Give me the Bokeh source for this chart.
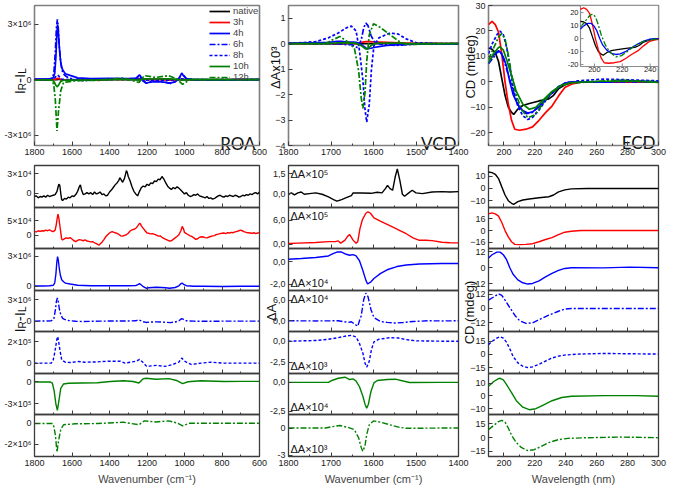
import math
from bokeh.plotting import figure
from bokeh.models import Range1d, FixedTicker, Label
from bokeh.layouts import row, column
from bokeh.embed import file_html
from bokeh.resources import INLINE
from bokeh.core.properties import value

# ---------------- data ----------------
SERIES = ["native", "3h", "4h", "6h", "8h", "10h", "12h"]
COLORS = ["#000000", "#ff0000", "#0000ff", "#0000ff", "#0000ff", "#008000", "#008000"]
DASHES = ["solid", "solid", "solid", "6 2 2 2", "3 2", "solid", "6 2 2 2"]

# ROA  (I_R - I_L), values in units of 10^ROA_EXP[k]
ROA_EXP = [4, 4, 6, 6, 5, 5, 6]
roa_native = [(1800,-0.5),(1790,-0.4),(1780,-0.7),(1770,-0.5),(1760,-0.6),(1750,-0.4),(1740,-0.6),(1730,-0.3),(1720,-0.5),(1710,-0.4),(1700,-0.3),(1690,-0.2),(1680,0.3),(1675,0.9),(1670,1.4),(1665,1.2),(1660,0.0),(1655,-1.0),(1650,-1.1),(1640,-0.8),(1630,-0.9),(1620,-0.6),(1610,-0.7),(1600,-0.4),(1590,-0.5),(1580,-0.2),(1570,0.3),(1560,1.1),(1555,1.3),(1550,0.6),(1540,-0.2),(1530,-0.1),(1520,0.1),(1510,-0.1),(1500,0.1),(1490,-0.2),(1480,0.2),(1470,-0.1),(1460,0.0),(1450,0.2),(1440,-0.2),(1430,-0.1),(1420,-0.4),(1410,-0.3),(1400,0.2),(1390,0.5),(1380,0.9),(1370,1.3),(1360,1.6),(1350,2.0),(1345,2.4),(1340,2.2),(1330,1.7),(1320,2.3),(1310,3.5),(1305,3.2),(1300,2.6),(1290,1.9),(1280,1.0),(1270,0.3),(1260,-0.1),(1250,-0.4),(1240,0.3),(1230,0.9),(1220,1.1),(1210,1.0),(1200,1.4),(1190,1.2),(1180,1.6),(1170,1.5),(1160,1.9),(1150,1.8),(1140,2.2),(1130,2.1),(1120,2.6),(1110,2.2),(1100,1.6),(1090,1.1),(1080,0.8),(1070,0.6),(1060,0.9),(1050,0.7),(1040,1.0),(1030,0.8),(1020,0.5),(1010,0.2),(1000,-0.1),(990,0.1),(980,-0.3),(970,-0.5),(960,-0.4),(950,-0.2),(940,-0.3),(930,-0.1),(920,-0.4),(910,-0.5),(900,-0.6),(890,-0.7),(880,-0.5),(870,-0.8),(860,-0.7),(850,-0.9),(840,-0.8),(830,-0.6),(820,-0.4),(810,-0.3),(800,-0.5),(790,-0.6),(780,-0.4),(770,-0.5),(760,-0.3),(750,-0.4),(740,-0.5),(730,-0.3),(720,-0.4),(710,-0.6),(700,-0.5),(690,-0.3),(680,-0.4),(670,-0.2),(660,-0.3),(650,-0.1),(640,-0.2),(630,0.0),(620,0.1),(610,-0.1),(600,0.2)]
roa_3h = [(1800,1.3),(1790,1.2),(1780,1.6),(1770,1.4),(1760,1.6),(1750,1.5),(1740,1.8),(1730,1.6),(1720,1.9),(1710,1.5),(1700,1.3),(1690,1.8),(1685,3.3),(1680,5.5),(1675,7.4),(1670,6.0),(1665,3.5),(1660,1.0),(1655,-1.3),(1650,-1.6),(1640,-1.2),(1630,-0.9),(1620,-1.1),(1610,-0.8),(1600,-1.3),(1590,-1.9),(1580,-2.2),(1570,-1.8),(1560,-1.5),(1550,-1.7),(1540,-1.9),(1530,-1.6),(1520,-2.0),(1510,-2.1),(1500,-2.3),(1490,-2.2),(1480,-2.6),(1470,-2.9),(1460,-3.3),(1455,-3.4),(1450,-3.0),(1440,-2.4),(1430,-1.5),(1420,-0.5),(1410,0.2),(1400,0.8),(1390,1.2),(1385,1.3),(1380,1.1),(1370,0.9),(1360,0.7),(1350,0.3),(1340,-0.2),(1330,-0.3),(1320,0.0),(1310,0.2),(1300,0.7),(1290,1.5),(1280,1.9),(1270,2.1),(1260,2.4),(1250,3.2),(1240,4.2),(1235,4.0),(1230,3.3),(1220,2.4),(1210,1.6),(1200,0.8),(1190,0.7),(1180,0.5),(1170,0.6),(1160,0.3),(1150,0.1),(1140,-0.3),(1130,-0.2),(1120,-0.7),(1110,-1.1),(1100,-1.4),(1090,-1.7),(1080,-2.0),(1070,-1.9),(1060,-1.4),(1050,-0.9),(1040,-0.4),(1030,0.2),(1020,1.5),(1012,3.1),(1005,2.2),(1000,1.0),(990,0.6),(980,0.2),(970,-0.2),(960,-0.4),(950,-0.9),(940,-1.4),(930,-1.2),(920,-0.7),(910,-0.5),(900,-0.6),(890,-0.8),(880,-0.9),(870,-0.6),(860,-0.4),(850,-0.2),(840,-0.1),(830,0.3),(820,0.4),(810,0.6),(800,0.7),(790,0.8),(780,0.6),(770,0.9),(760,0.8),(750,1.0),(740,0.9),(730,1.2),(720,1.4),(710,1.6),(700,1.8),(690,1.5),(680,1.2),(670,1.0),(660,0.9),(650,0.8),(640,0.7),(630,0.9),(620,0.6),(610,0.8),(600,0.8)]
roa_4h = [(1800,0.03),(1750,0.03),(1720,0.05),(1700,0.1),(1692,0.35),(1686,1.2),(1681,2.4),(1677,2.97),(1673,2.6),(1668,1.8),(1662,1.1),(1655,0.65),(1645,0.45),(1635,0.32),(1610,0.23),(1570,0.1),(1500,0.06),(1400,0.07),(1300,0.06),(1260,0.08),(1248,0.16),(1240,0.26),(1232,0.15),(1222,0.0),(1205,-0.19),(1190,-0.15),(1150,-0.1),(1100,-0.15),(1080,-0.19),(1050,-0.12),(1030,0.05),(1020,0.25),(1013,0.33),(1005,0.2),(990,0.06),(950,0.0),(900,0.01),(800,-0.02),(700,0.0),(600,0.0)]
roa_6h = [(1800,0.0),(1750,0.02),(1710,0.05),(1697,0.3),(1689,1.5),(1683,2.8),(1678,3.25),(1674,2.9),(1668,1.8),(1660,0.9),(1650,0.4),(1640,0.25),(1620,0.1),(1580,-0.02),(1540,-0.05),(1500,-0.02),(1450,0.0),(1400,0.02),(1300,0.03),(1260,0.05),(1245,0.2),(1238,0.12),(1225,-0.05),(1205,-0.18),(1180,-0.12),(1150,-0.1),(1100,-0.15),(1075,-0.2),(1050,-0.12),(1030,0.05),(1015,0.35),(1005,0.25),(990,0.05),(950,0.0),(900,-0.02),(800,0.0),(700,0.0),(600,0.0)]
roa_8h = [(1800,0.0),(1710,0.0),(1700,0.3),(1692,1.0),(1685,1.76),(1680,2.3),(1676,2.5),(1671,2.0),(1665,1.3),(1655,0.3),(1636,0.09),(1610,0.06),(1567,0.15),(1533,0.09),(1464,0.12),(1412,0.18),(1343,0.18),(1317,0.0),(1291,0.09),(1257,0.18),(1240,0.36),(1222,0.09),(1202,-0.3),(1150,-0.21),(1102,-0.3),(1067,-0.15),(1030,0.1),(1015,0.48),(1000,0.2),(990,0.09),(964,-0.12),(912,0.0),(860,0.09),(791,0.0),(600,0.0)]
roa_10h = [(1800,-0.04),(1714,-0.04),(1705,-0.17),(1695,-1.26),(1686,-3.0),(1678,-3.87),(1670,-2.6),(1660,-0.9),(1645,-0.3),(1619,-0.2),(1550,-0.17),(1464,-0.13),(1395,0.04),(1326,0.13),(1274,0.04),(1243,-0.17),(1222,0.39),(1205,0.48),(1153,0.35),(1084,0.43),(1041,0.17),(1010,-0.26),(981,0.0),(912,0.13),(791,0.04),(700,0.05),(600,0.05)]
roa_12h = [(1800,-0.03),(1705,-0.03),(1697,-0.3),(1689,-1.08),(1680,-2.77),(1672,-1.7),(1660,-0.6),(1645,-0.15),(1584,-0.06),(1464,-0.03),(1326,0.09),(1243,-0.15),(1214,0.22),(1153,0.12),(1084,0.22),(1041,0.03),(1010,-0.25),(972,0.0),(791,0.0),(600,0.0)]
ROA = [roa_native, roa_3h, roa_4h, roa_6h, roa_8h, roa_10h, roa_12h]
ROA_YR = [(-2.2, 4.3), (-4.6, 9.7), (-0.42, 3.77), (-1.45, 4.3), (-0.97, 2.97), (-4.43, 1.12), (-3.18, 0.83)]
ROA_YT = [[0, 3], [0, 5], [0, 3], [0, 3], [0, 2], [-3, 0], [-2, 0]]
ROA_YL = [{0: "0", 3: "3×10⁴"}, {0: "0", 5: "5×10⁴"}, {0: "0", 3: "3×10⁶"}, {0: "0", 3: "3×10⁶"},
          {0: "0", 2: "2×10⁵"}, {-3: "-3×10⁵", 0: "0"}, {-2: "-2×10⁶", 0: "0"}]

# VCD, values in units of dA x 10^VCD_EXP[k]
VCD_EXP = [5, 5, 4, 4, 3, 4, 3]
vcd_native = [(1800,-0.05),(1793,0.05),(1786,-0.1),(1778,0.05),(1770,0.12),(1763,-0.05),(1751,0.0),(1736,0.05),(1721,-0.05),(1706,-0.25),(1694,-0.45),(1686,-0.57),(1675,-0.45),(1664,-0.3),(1652,-0.15),(1648,0.05),(1629,0.05),(1606,0.02),(1591,0.1),(1580,0.05),(1572,0.37),(1567,0.62),(1561,0.37),(1555,0.25),(1549,1.25),(1544,1.87),(1538,1.0),(1532,-0.05),(1527,-0.2),(1517,0.05),(1509,0.25),(1500,0.05),(1485,0.0),(1462,0.12),(1439,0.15),(1420,0.12),(1400,0.15)]
vcd_3h = [(1800,0.16),(1778,0.24),(1736,0.4),(1706,0.63),(1690,0.63),(1683,0.8),(1677,0.24),(1667,1.0),(1660,2.05),(1656,2.37),(1648,1.0),(1641,0.24),(1637,0.6),(1632,3.8),(1626,6.15),(1618,7.73),(1613,8.1),(1607,7.73),(1599,6.55),(1584,5.76),(1568,4.97),(1553,4.18),(1538,3.4),(1523,2.6),(1507,1.58),(1492,0.95),(1477,0.95),(1462,0.87),(1439,0.47),(1420,0.35),(1400,0.3)]
vcd_4h = [(1800,0.23),(1770,0.29),(1736,0.38),(1706,0.52),(1694,0.75),(1686,0.87),(1675,0.87),(1664,0.67),(1656,0.58),(1648,0.64),(1641,0.52),(1633,0.09),(1625,-0.78),(1618,-1.65),(1614,-2.0),(1606,-1.8),(1599,-1.5),(1584,-1.07),(1568,-0.72),(1545,-0.43),(1523,-0.29),(1492,-0.2),(1439,-0.15),(1400,-0.15)]
vcd_6h = [(1800,0.0),(1736,-0.05),(1683,0.0),(1660,-0.48),(1652,-0.3),(1645,-0.95),(1637,-1.6),(1633,0.0),(1629,1.4),(1623,6.2),(1618,8.1),(1613,7.1),(1606,3.3),(1599,0.95),(1584,-0.2),(1568,-0.48),(1549,-0.67),(1530,-0.5),(1507,-0.2),(1470,0.0),(1439,-0.05),(1400,0.0)]
vcd_8h = [(1800,0.0),(1736,0.08),(1706,0.23),(1683,0.42),(1664,0.62),(1652,0.69),(1641,0.5),(1633,-0.27),(1625,-1.42),(1620,-2.58),(1616,-3.08),(1610,-2.39),(1605,-1.04),(1599,-0.08),(1587,0.23),(1561,0.42),(1542,0.38),(1523,0.19),(1500,0.04),(1439,0.0),(1400,0.0)]
vcd_10h = [(1800,0.0),(1706,0.0),(1698,0.16),(1683,0.35),(1667,0.44),(1656,0.24),(1648,0.3),(1641,0.11),(1633,-0.38),(1625,-1.2),(1620,-1.88),(1616,-2.23),(1612,-1.88),(1606,-0.79),(1599,-0.05),(1591,0.16),(1568,0.24),(1549,0.27),(1530,0.11),(1515,-0.01),(1439,0.0),(1400,0.0)]
vcd_12h = [(1800,0.0),(1713,0.0),(1698,0.14),(1679,0.28),(1660,0.07),(1645,-0.18),(1635,-1.06),(1629,-2.12),(1625,-2.54),(1620,-1.94),(1616,-0.7),(1610,0.35),(1600,0.78),(1584,0.64),(1561,0.35),(1538,0.07),(1523,-0.03),(1439,0.0),(1400,0.0)]
VCD = [vcd_native, vcd_3h, vcd_4h, vcd_6h, vcd_8h, vcd_10h, vcd_12h]
VCD_YR = [(-1.05, 2.12), (-1.1, 9.17), (-2.58, 1.19), (-3.14, 8.86), (-3.84, 1.15), (-2.77, 0.76), (-3.11, 1.48)]
VCD_YT = [[0, 1.5], [0, 6], [-2, 0], [0, 6], [-2.5, 0], [-2.5, 0], [-3, 0]]
VCD_YL = [{0: "0,0", 1.5: "1,5"}, {0: "0,0", 6: "6,0"}, {-2: "-2,0", 0: "0,0"}, {0: "0,0", 6: "6,0"},
          {-2.5: "-2,5", 0: "0,0"}, {-2.5: "-2,5", 0: "0,0"}, {-3: "-3", 0: "0"}]
VCD_TAG = ["ΔA×10⁵", "ΔA×10⁵", "ΔA×10⁴", "ΔA×10⁴", "ΔA×10³", "ΔA×10⁴", "ΔA×10³"]
VCD_TAG_POS = ["top", "top", "bottom", "top", "bottom", "bottom", "bottom"]

# ECD, CD in mdeg
ecd_native = [(190,13.3),(192.3,12.8),(194.4,11.5),(196.5,8.0),(198.6,1.3),(200.7,-5.3),(202.8,-9.9),(204.9,-12.0),(206.3,-12.8),(209,-10.7),(212.2,-9.3),(216.4,-8.5),(222.7,-7.5),(229,-6.7),(232.1,-5.3),(235.3,-2.7),(239.4,-1.1),(243.6,-0.3),(254,0.0),(264.6,0.0),(300,0.0)]
ecd_3h = [(190,22.5),(192.3,23.8),(194.4,22.5),(196.5,19.5),(198.6,10.8),(200.7,0.0),(202.8,-8.6),(204.9,-15.1),(207,-18.6),(210.1,-19.0),(214.3,-18.6),(218.5,-17.7),(222.7,-15.1),(226.9,-12.1),(231.1,-9.5),(235.3,-5.6),(239.4,-2.2),(243.6,-0.9),(249.9,0.0),(300,0.0)]
ecd_4h = [(190,7.35),(192.3,9.8),(195.4,11.8),(197.5,11.8),(199.6,9.8),(201.7,6.1),(203.8,0.0),(205.9,-4.9),(209,-9.1),(212.2,-11.3),(215.4,-12.25),(218.5,-11.8),(222.7,-9.8),(226.9,-6.9),(231.1,-4.2),(235.3,-2.0),(239.4,-0.5),(243.6,0.0),(264.6,-0.1),(281.3,0.5),(300,0.0)]
ecd_6h = [(190,7.1),(193.4,9.7),(196.5,12.3),(198.6,11.0),(200.7,7.1),(203.8,0.8),(207,-5.6),(210.1,-10.2),(214.3,-12.5),(218.5,-12.0),(222.7,-9.4),(229,-5.6),(235.3,-2.3),(239.4,-0.5),(243.6,0.0),(300,0.0)]
ecd_8h = [(190,11.1),(192.3,14.8),(195.4,18.5),(197.5,20.0),(199.6,18.5),(201.7,13.7),(203.8,6.3),(205.9,-2.2),(209,-9.6),(212.2,-13.3),(215.4,-14.8),(218.5,-14.0),(222.7,-11.1),(226.9,-7.4),(231.1,-4.1),(235.3,-1.85),(239.4,-0.7),(247.8,0.4),(264.6,1.1),(285.5,0.7),(300,0.4)]
ecd_10h = [(190,7.5),(193.4,11.25),(196.5,13.5),(197.5,13.75),(199.6,12.5),(201.7,8.75),(204.9,2.5),(208,-3.75),(212.2,-8.75),(216.4,-10.75),(220.6,-10.0),(224.8,-7.5),(231.1,-3.75),(237.4,-1.25),(243.6,-0.25),(264.6,0.25),(285.5,0.25),(300,-0.25)]
ecd_12h = [(190,8.8),(193.4,13.4),(196.5,17.6),(198.6,19.0),(200.7,16.9),(202.8,10.6),(204.9,2.8),(208,-5.3),(211.2,-10.6),(215.4,-14.1),(219.5,-13.1),(223.7,-9.9),(229,-5.3),(235.3,-2.1),(241.5,-0.7),(254.1,0.0),(275.1,0.7),(300,0.0)]
ECD = [ecd_native, ecd_3h, ecd_4h, ecd_6h, ecd_8h, ecd_10h, ecd_12h]
ECD_YR = [(-15.4, 18.6), (-24.2, 31.1), (-17.1, 14.5), (-19.3, 15.1), (-21.5, 25.9), (-14.5, 17.5), (-20.5, 25.3)]
ECD_YT = [[-10, 0, 10], [-16, 0, 16], [-12, 0, 12], [-12, 0, 12], [-15, 0, 15], [-10, 0, 10], [-15, 0, 15]]
INSET_SERIES = [0, 1, 2, 6]

ROA_XT = [1800, 1600, 1400, 1200, 1000, 800, 600]
ROA_XM = [1700, 1500, 1300, 1100, 900, 700]
VCD_XT = [1800, 1700, 1600, 1500, 1400]
VCD_XM = [1750, 1650, 1550, 1450]
ECD_XT = [200, 220, 240, 260, 280, 300]
ECD_XM = [190, 210, 230, 250, 270, 290]
INSET_XT = [200, 220, 240]
INSET_YT = [-20, -10, 0, 10, 20]

# ---------------- geometry / style ----------------
FONT = "Liberation Sans"
AXC = "#3c3c3c"
TOPC = "#7f7f7f"
TICK_FS = "9px"
OV_W, OV_H = 670, 487
LW, MW, RW = 281, 232, 222
L_BL, L_BR = 34, 22
M_BL, M_BR = 40, 22
R_BL, R_BR = 40, 12
M_ML, R_ML = -33, -32
TOP_H, TOP_BT, TOP_BB = 165, 5, 20
PANEL_H = [42, 41, 42, 41, 42, 41, 42]
PAD = 14
BOTTOM_BB = 31
# frame positions on the page canvas (used for the overlay titles)
L_FL = L_BL
M_FL = LW + M_ML + M_BL
R_FL = LW + M_ML + MW + R_ML + R_BL
TOP_FB = TOP_H - TOP_BB
MID_FB = TOP_H + sum(PANEL_H[:4])


def xy(pairs, scale=1.0):
    return [a for a, _ in pairs], [b * scale for _, b in pairs]


def base_fig(w, h, xr, yr, bl, br, bt, bb, margin=None, frame_color=AXC, frame_width=1.3):
    kw = dict(width=w, height=h, x_range=xr, y_range=yr, output_backend="svg",
              toolbar_location=None, min_border_left=bl, min_border_right=br,
              min_border_top=bt, min_border_bottom=bb)
    if margin is not None:
        kw["margin"] = margin
    p = figure(**kw)
    p.background_fill_alpha = 0
    p.border_fill_alpha = 0
    p.outline_line_color = frame_color
    p.outline_line_width = frame_width
    p.xgrid.visible = False
    p.ygrid.visible = False
    for ax in (p.xaxis[0], p.yaxis[0]):
        ax.axis_line_color = None
        ax.major_tick_line_color = AXC
        ax.minor_tick_line_color = AXC
        ax.major_tick_in = 4
        ax.major_tick_out = 0
        ax.minor_tick_in = 2
        ax.minor_tick_out = 0
        ax.major_label_text_font = FONT
        ax.major_label_text_font_size = TICK_FS
        ax.major_label_text_color = "#1a1a1a"
        ax.major_label_standoff = 3
    return p


def set_x(p, ticks, minor, labels=True, title=None):
    ax = p.xaxis[0]
    ax.ticker = FixedTicker(ticks=ticks, minor_ticks=minor)
    if not labels:
        ax.major_label_overrides = {t: "" for t in ticks}
        ax.major_label_standoff = 0
    if title:
        ax.axis_label = title
        ax.axis_label_text_font = FONT
        ax.axis_label_text_font_size = "11px"
        ax.axis_label_text_font_style = "normal"
        ax.axis_label_standoff = 4


def set_y(p, ticks, overrides=None):
    ax = p.yaxis[0]
    ax.ticker = FixedTicker(ticks=ticks)
    if overrides:
        ax.major_label_overrides = overrides


# ---------------- overlay for titles outside the frames ----------------
ov = figure(width=OV_W, height=OV_H, x_range=Range1d(0, OV_W), y_range=Range1d(0, OV_H),
            output_backend="svg", toolbar_location=None, min_border=0,
            x_axis_location=None, y_axis_location=None, margin=(0, 0, -OV_H, 0))
ov.outline_line_color = None
ov.background_fill_alpha = 0
ov.border_fill_alpha = 0
for g in ov.grid:
    g.visible = False


def ov_label(text, cx, cy, size, angle=0.0, align="center", baseline="alphabetic", font=FONT):
    ov.add_layout(Label(x=cx, y=OV_H - cy, x_units="screen", y_units="screen", text=text,
                        angle=angle, text_align=align, text_baseline=baseline,
                        text_font=font, text_font_size=f"{size}px", text_color="#111111"))


def irl_label(xb, cy, big=15, small=10):
    parts = [("I", big, 0.0, 0.278 * big), ("R", small, 3.0, 0.722 * small),
             ("-I", big, 0.0, 0.611 * big), ("L", small, 3.0, 0.556 * small)]
    total = sum(w for _, _, _, w in parts)
    y = cy + total / 2
    for t, fs, dx, w in parts:
        ov_label(t, xb + dx, y, fs, angle=math.pi / 2, align="left")
        y -= w


irl_label(L_FL - 15.5, TOP_FB - 64.2)
ov_label("ΔAx10³", M_FL - 13, TOP_FB - 77.7, 13, angle=math.pi / 2)
ov_label("CD (mdeg)", R_FL - 18.5, TOP_FB - 78.7, 13, angle=math.pi / 2)
irl_label(L_FL - 15.5, MID_FB - 12)
ov_label("ΔA", M_FL - 17.5, MID_FB - 19, 13, angle=math.pi / 2)
ov_label("CD (mdeg)", R_FL - 19, MID_FB - 19, 13, angle=math.pi / 2)
ov_label("ROA", L_FL + 225 - 4, TOP_FB - 2.5, 17, align="right", font="Lato")
ov_label("VCD", M_FL + 170 - 2, TOP_FB - 2.5, 17, align="right", font="Lato")
ov_label("ECD", R_FL + 170 - 3, TOP_FB - 3, 17, align="right", font="Lato")

# ---------------- top row ----------------
pA = base_fig(LW, TOP_H, Range1d(1800, 600), Range1d(-3.55, 4.0), L_BL, L_BR, TOP_BT, TOP_BB,
              frame_color=TOPC, frame_width=1.6)
set_x(pA, ROA_XT, ROA_XM)
set_y(pA, [-3, 0, 3], {-3: "-3×10⁶", 0: "0", 3: "3×10⁶"})
for k in range(7):
    xs, ys = xy(ROA[k], 10 ** (ROA_EXP[k] - 6))
    pA.line(xs, ys, line_color=COLORS[k], line_dash=DASHES[k], line_width=1.7, legend_label=SERIES[k])
lg = pA.legend[0]
lg.location = (174, 62)
lg.border_line_alpha = 0
lg.background_fill_alpha = 0
lg.label_text_font = FONT
lg.label_text_font_size = "9.5px"
lg.glyph_width = 21
lg.glyph_height = 10
lg.label_height = 10
lg.spacing = 0
lg.padding = 1
lg.margin = 0
lg.label_standoff = 3

pB = base_fig(MW, TOP_H, Range1d(1800, 1400), Range1d(-4.0, 1.5), M_BL, M_BR, TOP_BT, TOP_BB,
              margin=(0, 0, 0, M_ML), frame_color=TOPC, frame_width=1.6)
set_x(pB, VCD_XT, VCD_XM)
set_y(pB, [-4, -3, -2, -1, 0, 1])
for k in range(7):
    xs, ys = xy(VCD[k], 10 ** (3 - VCD_EXP[k]))
    pB.line(xs, ys, line_color=COLORS[k], line_dash=DASHES[k], line_width=1.7)

pC = base_fig(RW, TOP_H, Range1d(190, 300), Range1d(-25, 30), R_BL, R_BR, TOP_BT, TOP_BB,
              margin=(0, 0, 0, R_ML), frame_color=TOPC, frame_width=1.6)
set_x(pC, ECD_XT, ECD_XM)
set_y(pC, [-20, -10, 0, 10, 20, 30])
for k in range(7):
    xs, ys = xy(ECD[k])
    pC.line(xs, ys, line_color=COLORS[k], line_dash=DASHES[k], line_width=1.7)

# inset (zoom of 190-246 nm) drawn through extra ranges
C_FW, C_FH = RW - R_BL - R_BR, TOP_H - TOP_BT - TOP_BB
INS_W, INS_H = 78, 61
IX0, IX1, IY0, IY1 = 190.0, 246.0, -21.5, 25.5
pC.extra_x_ranges = {"ix": Range1d(IX1 - (IX1 - IX0) * C_FW / INS_W, IX1)}
pC.extra_y_ranges = {"iy": Range1d(IY1 - (IY1 - IY0) * C_FH / INS_H, IY1)}
pC.quad(left=[IX0], right=[IX1], bottom=[IY0], top=[IY1], x_range_name="ix", y_range_name="iy",
        fill_color="white", line_color="#8c8c8c", line_width=1.2)
for k in INSET_SERIES:
    xs, ys = xy(ECD[k])
    pC.line(xs, ys, line_color=COLORS[k], line_dash=DASHES[k], line_width=1.3,
            x_range_name="ix", y_range_name="iy")
tx = 3 * (IX1 - IX0) / INS_W
ty = 3 * (IY1 - IY0) / INS_H
pC.segment(x0=INSET_XT, y0=[IY0] * 3, x1=INSET_XT, y1=[IY0 + ty] * 3, line_color="#8c8c8c",
           x_range_name="ix", y_range_name="iy")
pC.segment(x0=[IX0] * 5, y0=INSET_YT, x1=[IX0 + tx] * 5, y1=INSET_YT, line_color="#8c8c8c",
           x_range_name="ix", y_range_name="iy")
pC.text(x=[IX0] * 5, y=INSET_YT, text=[str(v) for v in INSET_YT], x_offset=-2,
        text_align="right", text_baseline="middle", text_font=value(FONT), text_font_size="7.5px",
        text_color="#1a1a1a", x_range_name="ix", y_range_name="iy")
pC.text(x=INSET_XT, y=[IY0] * 3, text=[str(v) for v in INSET_XT], text_align="center",
        text_baseline="top", text_font=value(FONT), text_font_size="7.5px",
        text_color="#1a1a1a", x_range_name="ix", y_range_name="iy")

top_row = row(pA, pB, pC)

# ---------------- stacks ----------------
def stack_fig(i, w, bl, br, xr, yr):
    last = i == 6
    h = PANEL_H[i]
    bb = BOTTOM_BB if last else PAD
    return base_fig(w, PAD + h + bb, xr, Range1d(*yr), bl, br, PAD, bb,
                    margin=(-PAD, 0, 0 if last else -PAD, 0))


colL, colM, colR = [], [], []
for i in range(7):
    last = i == 6
    # ROA
    p = stack_fig(i, LW, L_BL, L_BR, Range1d(1800, 600), ROA_YR[i])
    set_x(p, ROA_XT, ROA_XM, labels=last, title="Wavenumber (cm⁻¹)" if last else None)
    set_y(p, ROA_YT[i], ROA_YL[i])
    xs, ys = xy(ROA[i])
    p.line(xs, ys, line_color=COLORS[i], line_dash=DASHES[i], line_width=1.4)
    colL.append(p)
    # VCD
    p = stack_fig(i, MW, M_BL, M_BR, Range1d(1800, 1400), VCD_YR[i])
    set_x(p, VCD_XT, VCD_XM, labels=last, title="Wavenumber (cm⁻¹)" if last else None)
    set_y(p, VCD_YT[i], VCD_YL[i])
    xs, ys = xy(VCD[i])
    p.line(xs, ys, line_color=COLORS[i], line_dash=DASHES[i], line_width=1.4)
    if VCD_TAG_POS[i] == "top":
        p.add_layout(Label(x=2, y=PANEL_H[i] - 2, x_units="screen", y_units="screen", text=VCD_TAG[i],
                           text_align="left", text_baseline="top", text_font=FONT,
                           text_font_size="11px", text_color="#111111"))
    else:
        p.add_layout(Label(x=2, y=2, x_units="screen", y_units="screen", text=VCD_TAG[i],
                           text_align="left", text_baseline="bottom", text_font=FONT,
                           text_font_size="11px", text_color="#111111"))
    colM.append(p)
    # ECD
    p = stack_fig(i, RW, R_BL, R_BR, Range1d(190, 300), ECD_YR[i])
    set_x(p, ECD_XT, ECD_XM, labels=last, title="Wavelength (nm)" if last else None)
    set_y(p, ECD_YT[i])
    xs, ys = xy(ECD[i])
    p.line(xs, ys, line_color=COLORS[i], line_dash=DASHES[i], line_width=1.4)
    colR.append(p)

stacks = row(column(*colL), column(*colM, margin=(0, 0, 0, M_ML)), column(*colR, margin=(0, 0, 0, R_ML)))
layout = column(ov, top_row, stacks)

open("out.html", "w").write(file_html(layout, INLINE))
